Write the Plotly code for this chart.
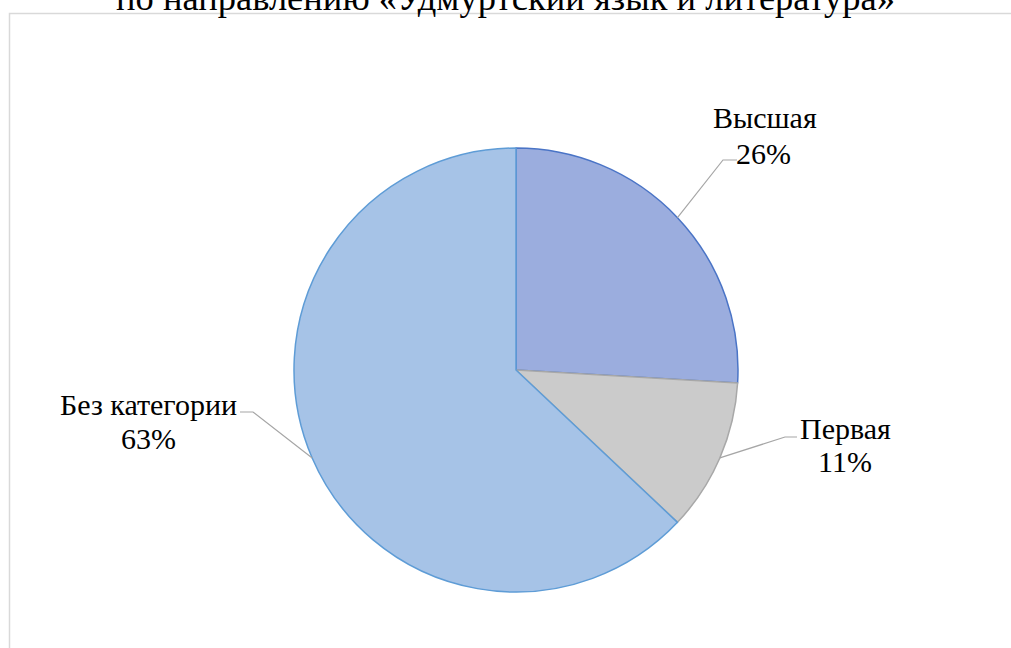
import math
import plotly.graph_objects as go

# ---- data ----
categories = ["Высшая", "Первая", "Без категории"]
values = [7, 3, 17]
title_text = "по направлению «Удмуртский язык и литература»"

# ---- styles / layout constants ----
W, H = 1011, 648
fill_colors = ["#9badde", "#cbcbcb", "#a6c3e7"]
edge_colors = ["#4a74c6", "#a8a8a8", "#5e9cd6"]
FONT = "Liberation Serif, Times New Roman, serif"
LABEL_SIZE = 30
TITLE_SIZE = 36.5
CX, CY, R = 516, 370, 222
# label layout in pixels: name centre, percent centre, leader bend, leader end
label_layout = [
    dict(name=(765, 117), pct=(763, 153), bend=(723, 160), end=(737, 160)),
    dict(name=(845, 428), pct=(845, 461), bend=(785, 437), end=(797, 437)),
    dict(name=(148, 404), pct=(148, 438), bend=(253, 412), end=(240, 412)),
]


def px(x):
    return x / W


def py(y):
    return 1 - y / H


fig = go.Figure(go.Pie(
    labels=categories,
    values=values,
    sort=False,
    direction="clockwise",
    rotation=0,
    textinfo="none",
    marker=dict(colors=fill_colors, line=dict(color=edge_colors, width=1.5)),
    domain=dict(x=[px(CX - R), px(CX + R)], y=[py(CY + R), py(CY - R)]),
    showlegend=False,
))

total = sum(values)
annotations = []
shapes = []

# chart area border
shapes.append(dict(type="rect", xref="paper", yref="paper",
                   x0=px(9.5), x1=px(W + 20), y0=py(H + 20), y1=py(13.5),
                   line=dict(color="#d9d9d9", width=1.5), layer="below"))

cum = 0
for i, (cat, v) in enumerate(zip(categories, values)):
    mid = (cum + v / 2) / total * 2 * math.pi
    cum += v
    ax = CX + R * math.sin(mid)
    ay = CY - R * math.cos(mid)
    lay = label_layout[i]
    pct = f"{round(100 * v / total)}%"
    annotations.append(dict(text=cat, x=px(lay["name"][0]), y=py(lay["name"][1]),
                            xref="paper", yref="paper", showarrow=False,
                            xanchor="center", yanchor="middle",
                            font=dict(family=FONT, size=LABEL_SIZE, color="#000000")))
    annotations.append(dict(text=pct, x=px(lay["pct"][0]), y=py(lay["pct"][1]),
                            xref="paper", yref="paper", showarrow=False,
                            xanchor="center", yanchor="middle",
                            font=dict(family=FONT, size=LABEL_SIZE, color="#000000")))
    bx, by = lay["bend"]
    ex, ey = lay["end"]
    shapes.append(dict(type="path", xref="paper", yref="paper",
                       path=f"M {px(ax)},{py(ay)} L {px(bx)},{py(by)} L {px(ex)},{py(ey)}",
                       line=dict(color="#a6a6a6", width=1.2)))

annotations.append(dict(text=title_text, x=px(505), y=py(-2), xref="paper", yref="paper",
                        showarrow=False, xanchor="center", yanchor="middle",
                        font=dict(family=FONT, size=TITLE_SIZE, color="#000000")))

fig.update_layout(
    width=W, height=H,
    margin=dict(l=0, r=0, t=0, b=0),
    paper_bgcolor="white",
    plot_bgcolor="white",
    annotations=annotations,
    shapes=shapes,
)

fig.write_html("out.html",
               config={"displayModeBar": False},
               post_script="document.body.style.margin='0';document.body.style.overflow='hidden';")
